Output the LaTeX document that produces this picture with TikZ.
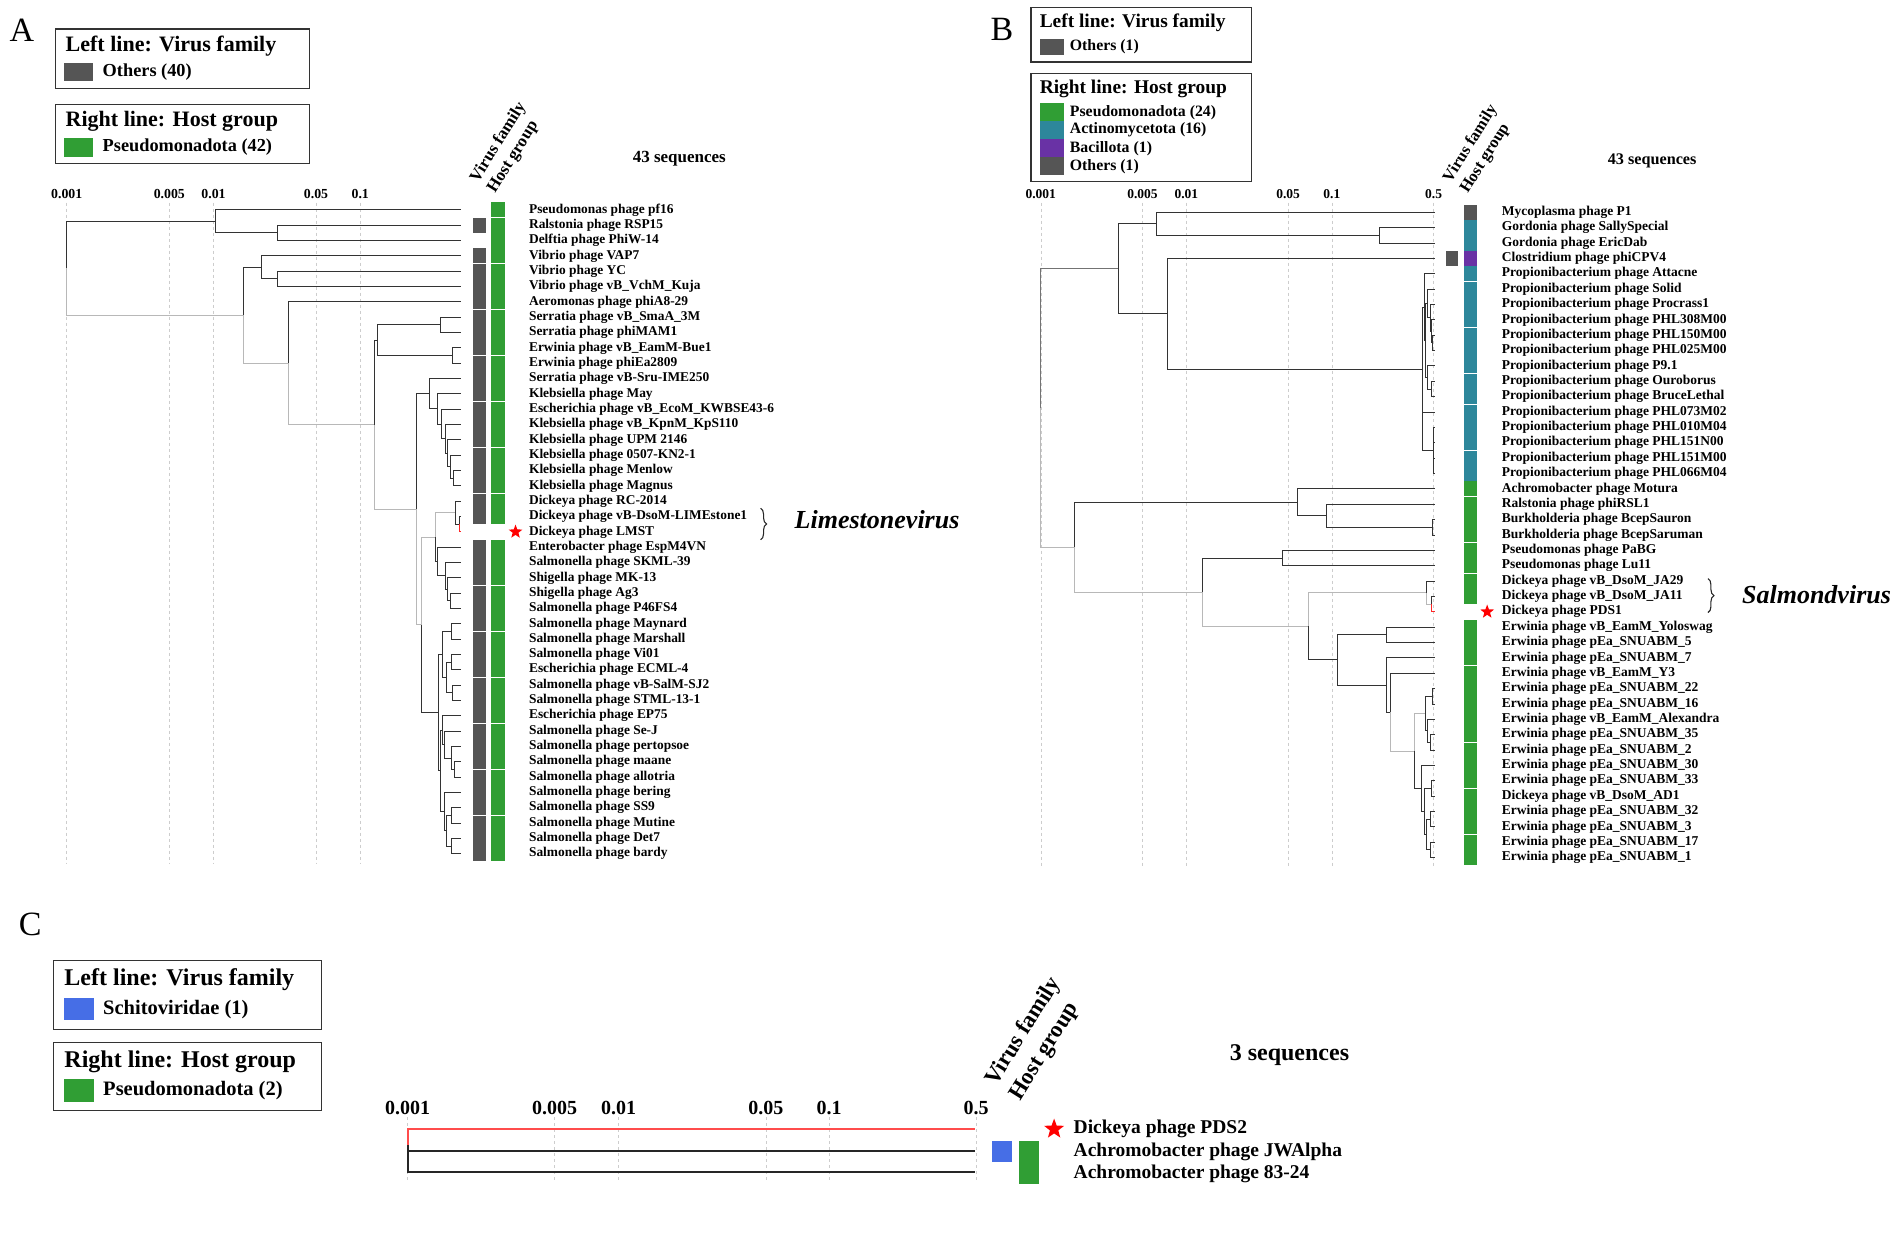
\documentclass[tikz,border=0pt]{standalone}
\usepackage{fontspec}
\setmainfont{Liberation Serif}
\usetikzlibrary{positioning, calc, shapes.geometric, decorations.pathreplacing}

\definecolor{hostgreen}{RGB}{48,158,52}
\definecolor{hostteal}{RGB}{45,135,155}
\definecolor{hostpurple}{RGB}{105,50,165}
\definecolor{famgray}{RGB}{85,85,85}
\definecolor{famblue}{RGB}{70,110,230}
\definecolor{gridgray}{RGB}{205,205,205}

\tikzset{
  branch/.style={draw=black!80, line width=0.9pt},
  branchm/.style={draw=black!55, line width=0.9pt},
  branchl/.style={draw=black!28, line width=0.9pt},
  branchr/.style={draw=red!85, line width=0.9pt},
  branchc/.style={draw=black!85, line width=2pt},
  branchrc/.style={draw=red!70, line width=2pt},
  gridline/.style={draw=gridgray, line width=0.5pt, dash pattern=on 3pt off 3pt},
  leaflab/.style={anchor=west, inner sep=0pt, font=\fontsize{#1}{#1}\selectfont\bfseries},
  scalelab/.style={inner sep=0pt, font=\fontsize{#1}{#1}\selectfont\bfseries},
  legbox/.style={draw=black!80, line width=1.3pt},
  legtitle/.style={anchor=west, inner sep=0pt, font=\fontsize{#1}{#1}\selectfont\bfseries},
  legentry/.style={anchor=west, inner sep=0pt, font=\fontsize{#1}{#1}\selectfont\bfseries},
  swatch/.style={inner sep=0pt, draw=none},
  panel/.style={inner sep=0pt, font=\fontsize{34}{36}\selectfont},
  colhead/.style={anchor=base west, rotate=58, inner sep=0pt, font=\fontsize{#1}{#1}\selectfont\bfseries},
  seqcount/.style={inner sep=0pt, font=\fontsize{#1}{#1}\selectfont\bfseries},
  genus/.style={anchor=west, inner sep=0pt, font=\fontsize{26}{28}\selectfont\bfseries\itshape},
  redstar/.style={star, star points=5, star point ratio=2.4, fill=red, draw=none, inner sep=0pt, minimum size=#1},
  genusbrace/.style={draw=black!85, line width=1.1pt, decorate, decoration={brace, amplitude=6pt}},
}

\begin{document}
\begin{tikzpicture}[x=1.213pt, y=-1.213pt]
\useasboundingbox (0,0) rectangle (1568,1025);

% ================= panel A =================
\node[panel] (labA) at (18,25) {A};
\draw[legbox] (46,24) rectangle (255,73);
\node[legtitle=22] (ttA1) at (54,38) {Left line: Virus family};
\node[swatch, fill=famgray, minimum width=29pt, minimum height=18pt] (swA1) at (65,59.5) {};
\node[legentry=18.3, right=9pt of swA1] (enA1) {Others (40)};
\draw[legbox] (46,86) rectangle (255,135);
\node[legtitle=22] (ttA2) at (54,100) {Right line: Host group};
\node[swatch, fill=hostgreen, minimum width=29pt, minimum height=19pt] (swA2) at (65,121.5) {};
\node[legentry=18.3, right=9pt of swA2] (enA2) {Pseudomonadota (42)};

\node[colhead=17] (vfA) at (394,151) {Virus family};
\node[colhead=17] (hgA) at (408,160) {Host group};
\node[seqcount=17] (nA) at (560,131) {43 sequences};

\foreach \v/\x [count=\k] in {0.001/55, 0.005/139.6, 0.01/176, 0.05/260.5, 0.1/297}{
  \node[scalelab=13.8] (sA\k) at (\x,160) {\v};
  \draw[gridline] (\x,167) -- (\x,712);
}

\begin{scope}[shift={(0,160.36)}, y=-15.332pt]
  \foreach \i in {1,...,43} \coordinate (a\i) at (380,\i);
  \foreach \n/\x/\r in {aR/55/4.8145, aN1/177.6/1.75, aN1b/228.5/2.5,
      aN2/200.5/7.8789, aN3/215.6/4.75, aN3b/228.5/5.5,
      aN4/238/11.0078, aN5/309/15.0156,
      aN6/311.5/9.5, aN6a/362.7/8.5, aN6b/373/10.5, aN7/343/20.5313,
      aN8/354/12.9922, aN8b/360.5/13.9844, aN8c/364/14.9688, aN8d/367/15.9375,
      aN8e/369/16.875, aN8f/371/17.75, aN8g/374/18.5,
      aN9/347.6/28.0703, aN10/358.6/22.3438, aN12/375.5/20.75, aN12b/378.5/21.5,
      aN13/360.5/23.9375, aN13b/366.9/24.875, aN13c/369/25.75, aN13d/371/26.5,
      aN11/361.6/33.7969, aN14/365/30, aN14a/372/28.5, aN14b/368/31.5,
      aN14c/372/30.5, aN14d/373/32.5, aN15/363/37.5938,
      aN16/365/34.9375, aN16b/366/35.875, aN16c/372/36.75, aN16d/375/37.5,
      aN17/366/40.25, aN17b/368/41.5, aN17c/372/40.5, aN17d/372/42.5}
    \coordinate (\n) at (\x,\r);
  \foreach \p/\c/\s in {aR/aN1/branch, aR/aN2/branchl,
      aN1/a1/branch, aN1/aN1b/branch, aN1b/a2/branch, aN1b/a3/branch,
      aN2/aN3/branch, aN2/aN4/branchl,
      aN3/a4/branch, aN3/aN3b/branch, aN3b/a5/branch, aN3b/a6/branch,
      aN4/a7/branch, aN4/aN5/branchl, aN5/aN6/branch, aN5/aN7/branchl,
      aN6/aN6a/branch, aN6/aN6b/branch, aN6a/a8/branch, aN6a/a9/branch,
      aN6b/a10/branch, aN6b/a11/branch,
      aN7/aN8/branch, aN7/aN9/branchl,
      aN8/a12/branch, aN8/aN8b/branch, aN8b/a13/branch, aN8b/aN8c/branch,
      aN8c/a14/branch, aN8c/aN8d/branch, aN8d/a15/branch, aN8d/aN8e/branch,
      aN8e/a16/branch, aN8e/aN8f/branch, aN8f/a17/branch, aN8f/aN8g/branch,
      aN8g/a18/branch, aN8g/a19/branch,
      aN9/aN10/branchl, aN9/aN11/branch, aN10/aN12/branchl, aN10/aN13/branch,
      aN12/a20/branch, aN12/aN12b/branch, aN12b/a21/branch, aN12b/a22/branchr,
      aN13/a23/branch, aN13/aN13b/branch, aN13b/a24/branch, aN13b/aN13c/branch,
      aN13c/a25/branch, aN13c/aN13d/branch, aN13d/a26/branch, aN13d/a27/branch,
      aN11/aN14/branch, aN11/aN15/branch,
      aN14/aN14a/branch, aN14/aN14b/branch, aN14a/a28/branch, aN14a/a29/branch,
      aN14b/aN14c/branch, aN14b/aN14d/branch, aN14c/a30/branch, aN14c/a31/branch,
      aN14d/a32/branch, aN14d/a33/branch,
      aN15/aN16/branch, aN15/aN17/branch,
      aN16/a34/branch, aN16/aN16b/branch, aN16b/a35/branch, aN16b/aN16c/branch,
      aN16c/a36/branch, aN16c/aN16d/branch, aN16d/a37/branch, aN16d/a38/branch,
      aN17/a39/branch, aN17/aN17b/branch, aN17b/aN17c/branch, aN17b/aN17d/branch,
      aN17c/a40/branch, aN17c/a41/branch, aN17d/a42/branch, aN17d/a43/branch}
    \draw[\s] (\p) |- (\c);
  % colour strips
  \foreach \r in {2} \fill[famgray] (390,\r-0.49) rectangle (401,\r+0.49);
  \foreach \r in {4,...,21} \fill[famgray] (390,\r-0.49) rectangle (401,\r+0.49);
  \foreach \r in {23,...,43} \fill[famgray] (390,\r-0.49) rectangle (401,\r+0.49);
  \foreach \r in {1,...,21} \fill[hostgreen] (405,\r-0.49) rectangle (416,\r+0.49);
  \foreach \r in {23,...,43} \fill[hostgreen] (405,\r-0.49) rectangle (416,\r+0.49);
  \node[redstar=14.5pt] (stA) at (425,22) {};
  \foreach \name [count=\i] in {Pseudomonas phage pf16, Ralstonia phage RSP15,
      Delftia phage PhiW-14, Vibrio phage VAP7, Vibrio phage YC,
      Vibrio phage vB\_VchM\_Kuja, Aeromonas phage phiA8-29,
      Serratia phage vB\_SmaA\_3M, Serratia phage phiMAM1,
      Erwinia phage vB\_EamM-Bue1, Erwinia phage phiEa2809,
      Serratia phage vB-Sru-IME250, Klebsiella phage May,
      Escherichia phage vB\_EcoM\_KWBSE43-6, Klebsiella phage vB\_KpnM\_KpS110,
      Klebsiella phage UPM 2146, Klebsiella phage 0507-KN2-1,
      Klebsiella phage Menlow, Klebsiella phage Magnus, Dickeya phage RC-2014,
      Dickeya phage vB-DsoM-LIMEstone1, Dickeya phage LMST,
      Enterobacter phage EspM4VN, Salmonella phage SKML-39,
      Shigella phage MK-13, Shigella phage Ag3, Salmonella phage P46FS4,
      Salmonella phage Maynard, Salmonella phage Marshall, Salmonella phage Vi01,
      Escherichia phage ECML-4, Salmonella phage vB-SalM-SJ2,
      Salmonella phage STML-13-1, Escherichia phage EP75, Salmonella phage Se-J,
      Salmonella phage pertopsoe, Salmonella phage maane, Salmonella phage allotria,
      Salmonella phage bering, Salmonella phage SS9, Salmonella phage Mutine,
      Salmonella phage Det7, Salmonella phage bardy}
    \node[leaflab=13.4] (la\i) at (436,\i) {\name};
\end{scope}

\coordinate (brA1) at (627,419);
\coordinate (brA2) at (627,445);
\draw[genusbrace] (brA1) -- (brA2);
\node[genus] (gA) at (655,428) {Limestonevirus};

% ================= panel B =================
\node[panel] (labB) at (826,24) {B};
\draw[legbox] (850,6) rectangle (1032,51);
\node[legtitle=19.4] (ttB1) at (857,19) {Left line: Virus family};
\node[swatch, fill=famgray, minimum width=23.7pt, minimum height=16pt] (swB1) at (867,38.7) {};
\node[legentry=15.8, right=6pt of swB1] (enB1) {Others (1)};
\draw[legbox] (850,60.4) rectangle (1032,149.8);
\node[legtitle=19.4] (ttB2) at (857,73.7) {Right line: Host group};
\node[swatch, fill=hostgreen, minimum width=23.7pt, minimum height=17.6pt] (swB2) at (867,92.5) {};
\node[swatch, fill=hostteal, minimum width=23.7pt, minimum height=17.6pt, below=0pt of swB2] (swB3) {};
\node[swatch, fill=hostpurple, minimum width=23.7pt, minimum height=17.6pt, below=0pt of swB3] (swB4) {};
\node[swatch, fill=famgray, minimum width=23.7pt, minimum height=17.6pt, below=0pt of swB4] (swB5) {};
\node[legentry=15.8, right=6pt of swB2] (enB2) {Pseudomonadota (24)};
\node[legentry=15.8, right=6pt of swB3] (enB3) {Actinomycetota (16)};
\node[legentry=15.8, right=6pt of swB4] (enB4) {Bacillota (1)};
\node[legentry=15.8, right=6pt of swB5] (enB5) {Others (1)};

\node[colhead=16.4] (vfB) at (1196,151) {Virus family};
\node[colhead=16.4] (hgB) at (1210,160) {Host group};
\node[seqcount=16.2] (nB) at (1362,133) {43 sequences};

\foreach \v/\x [count=\k] in {0.001/858, 0.005/941.9, 0.01/978, 0.05/1061.9, 0.1/1098, 0.5/1181.9}{
  \node[scalelab=13.5] (sB\k) at (\x,160) {\v};
  \draw[gridline] (\x,167) -- (\x,716);
}

\begin{scope}[shift={(0,162.33)}, y=-15.365pt]
  \foreach \i in {1,...,43} \coordinate (b\i) at (1183,\i);
  \foreach \n/\x/\r in {bR/858/13.7378, bN1/922.3/4.6777, bN3/953.4/1.75, bN3b/1137.6/2.5,
      bN4/962.4/7.6055, bP/1172.6/11.2109,
      bPa/1174/7.1719, bPd/1175/9.3438, bPe/1177/6.9375, bPg/1179/7.875,
      bPh/1180/8.75, bPi/1181/9.5, bPf/1177/11.75, bPj/1180/12.5,
      bPb/1173/15.25, bPc/1181.5/16.5,
      bN2/885.8/22.7979, bN5/1069.5/19.875, bN5b/1093.5/20.75, bN5c/1181/21.5,
      bN6/990.9/25.7207, bN7/1057.5/23.5,
      bN8/1078.5/27.9414, bS/1176/25.75, bSb/1180/26.5,
      bN9/1102.6/30.1328, bN10/1142.6/28.5,
      bN11/1142.6/31.7656, bN12/1146/33.5313, bN13/1166/36.0625,
      bN14/1175.3/33.625, bN14a/1181/32.5, bN14b/1177/34.75, bN14c/1179/35.5,
      bN15/1172/38.5, bN15b/1174/40, bN15c/1180/38.5, bN15d/1176/41.5,
      bN15e/1179/40.5, bN15f/1179/42.5}
    \coordinate (\n) at (\x,\r);
  \foreach \p/\c/\s in {bR/bN1/branchm, bR/bN2/branchl,
      bN1/bN3/branch, bN1/bN4/branch,
      bN3/b1/branch, bN3/bN3b/branch, bN3b/b2/branch, bN3b/b3/branch,
      bN4/b4/branch, bN4/bP/branch, bP/bPa/branch, bP/bPb/branch,
      bPa/b5/branch, bPa/bPd/branch, bPd/bPe/branch, bPd/bPf/branch,
      bPe/b6/branch, bPe/bPg/branch, bPg/b7/branch, bPg/bPh/branch,
      bPh/b8/branch, bPh/bPi/branch, bPi/b9/branch, bPi/b10/branch,
      bPf/b11/branch, bPf/bPj/branch, bPj/b12/branch, bPj/b13/branch,
      bPb/b14/branch, bPb/bPc/branch, bPc/b15/branch, bPc/b16/branch,
      bPc/b17/branch, bPc/b18/branch,
      bN2/bN5/branch, bN2/bN6/branchl,
      bN5/b19/branch, bN5/bN5b/branch, bN5b/b20/branch, bN5b/bN5c/branch,
      bN5c/b21/branch, bN5c/b22/branch,
      bN6/bN7/branch, bN6/bN8/branchl, bN7/b23/branch, bN7/b24/branch,
      bN8/bS/branchl, bN8/bN9/branch,
      bS/b25/branch, bS/bSb/branchl, bSb/b26/branch, bSb/b27/branchr,
      bN9/bN10/branch, bN9/bN11/branch, bN10/b28/branch, bN10/b29/branch,
      bN11/b30/branch, bN11/bN12/branch, bN12/b31/branch, bN12/bN13/branchl,
      bN13/bN14/branchl, bN13/bN15/branch,
      bN14/bN14a/branch, bN14/bN14b/branch, bN14a/b32/branch, bN14a/b33/branch,
      bN14b/b34/branch, bN14b/bN14c/branch, bN14c/b35/branch, bN14c/b36/branch,
      bN15/b37/branch, bN15/bN15b/branch, bN15b/bN15c/branch, bN15b/bN15d/branch,
      bN15c/b38/branch, bN15c/b39/branch, bN15d/bN15e/branch, bN15d/bN15f/branch,
      bN15e/b40/branch, bN15e/b41/branch, bN15f/b42/branch, bN15f/b43/branch}
    \draw[\s] (\p) |- (\c);
  % colour strips
  \fill[famgray] (1192,3.51) rectangle (1202,4.49);
  \fill[famgray] (1207,0.51) rectangle (1218,1.49);
  \foreach \r in {2,3} \fill[hostteal] (1207,\r-0.49) rectangle (1218,\r+0.49);
  \fill[hostpurple] (1207,3.51) rectangle (1218,4.49);
  \foreach \r in {5,...,18} \fill[hostteal] (1207,\r-0.49) rectangle (1218,\r+0.49);
  \foreach \r in {19,...,26} \fill[hostgreen] (1207,\r-0.49) rectangle (1218,\r+0.49);
  \foreach \r in {28,...,43} \fill[hostgreen] (1207,\r-0.49) rectangle (1218,\r+0.49);
  \node[redstar=14.5pt] (stB) at (1226,27) {};
  \foreach \name [count=\i] in {Mycoplasma phage P1, Gordonia phage SallySpecial,
      Gordonia phage EricDab, Clostridium phage phiCPV4,
      Propionibacterium phage Attacne, Propionibacterium phage Solid,
      Propionibacterium phage Procrass1, Propionibacterium phage PHL308M00,
      Propionibacterium phage PHL150M00, Propionibacterium phage PHL025M00,
      Propionibacterium phage P9.1, Propionibacterium phage Ouroborus,
      Propionibacterium phage BruceLethal, Propionibacterium phage PHL073M02,
      Propionibacterium phage PHL010M04, Propionibacterium phage PHL151N00,
      Propionibacterium phage PHL151M00, Propionibacterium phage PHL066M04,
      Achromobacter phage Motura, Ralstonia phage phiRSL1,
      Burkholderia phage BcepSauron, Burkholderia phage BcepSaruman,
      Pseudomonas phage PaBG, Pseudomonas phage Lu11,
      Dickeya phage vB\_DsoM\_JA29, Dickeya phage vB\_DsoM\_JA11, Dickeya phage PDS1,
      Erwinia phage vB\_EamM\_Yoloswag, Erwinia phage pEa\_SNUABM\_5,
      Erwinia phage pEa\_SNUABM\_7, Erwinia phage vB\_EamM\_Y3,
      Erwinia phage pEa\_SNUABM\_22, Erwinia phage pEa\_SNUABM\_16,
      Erwinia phage vB\_EamM\_Alexandra, Erwinia phage pEa\_SNUABM\_35,
      Erwinia phage pEa\_SNUABM\_2, Erwinia phage pEa\_SNUABM\_30,
      Erwinia phage pEa\_SNUABM\_33, Dickeya phage vB\_DsoM\_AD1,
      Erwinia phage pEa\_SNUABM\_32, Erwinia phage pEa\_SNUABM\_3,
      Erwinia phage pEa\_SNUABM\_17, Erwinia phage pEa\_SNUABM\_1}
    \node[leaflab=13.5] (lb\i) at (1238,\i) {\name};
\end{scope}

\coordinate (brB1) at (1408,477);
\coordinate (brB2) at (1408,505);
\draw[genusbrace] (brB1) -- (brB2);
\node[genus] (gB) at (1436,490) {Salmondvirus};

% ================= panel C =================
\node[panel] (labC) at (25,762) {C};
\draw[legbox] (44,792) rectangle (265,848.6);
\node[legtitle=24] (ttC1) at (53,808) {Left line: Virus family};
\node[swatch, fill=famblue, minimum width=29.5pt, minimum height=21.8pt] (swC1) at (65.2,832) {};
\node[legentry=20.5, right=9pt of swC1] (enC1) {Schitoviridae (1)};
\draw[legbox] (44,859.6) rectangle (265,915.6);
\node[legtitle=24] (ttC2) at (53,875.2) {Right line: Host group};
\node[swatch, fill=hostgreen, minimum width=29.5pt, minimum height=22.3pt] (swC2) at (65.2,899) {};
\node[legentry=20.5, right=9pt of swC2] (enC2) {Pseudomonadota (2)};

\node[colhead=23] (vfC) at (821,896) {Virus family};
\node[colhead=23] (hgC) at (841,908) {Host group};
\node[seqcount=24] (nC) at (1063,870) {3 sequences};

\foreach \v/\x [count=\k] in {0.001/336, 0.005/457.3, 0.01/510, 0.05/631.3, 0.1/683.5, 0.5/804.6}{
  \node[scalelab=20] (sC\k) at (\x,913) {\v};
  \draw[gridline] (\x,921) -- (\x,975);
}

\coordinate (cR) at (336,944.2);
\coordinate (cN) at (336,957.7);
\coordinate (c1) at (804,930.8);
\coordinate (c2) at (804,948.9);
\coordinate (c3) at (804,966.5);
\foreach \p/\c/\s in {cR/c1/branchrc, cR/cN/branchc, cN/c2/branchc, cN/c3/branchc}
  \draw[\s] (\p) |- (\c);

\fill[famblue] (818.2,940.4) rectangle (834.3,957.7);
\fill[hostgreen] (840.3,940.4) rectangle (856.2,976.1);
\node[redstar=21pt] (stC) at (869,930.8) {};
\node[leaflab=19.5] (lc1) at (885,930.8) {Dickeya phage PDS2};
\node[leaflab=19.5] (lc2) at (885,949.5) {Achromobacter phage JWAlpha};
\node[leaflab=19.5] (lc3) at (885,967.8) {Achromobacter phage 83-24};

\end{tikzpicture}
\end{document}
